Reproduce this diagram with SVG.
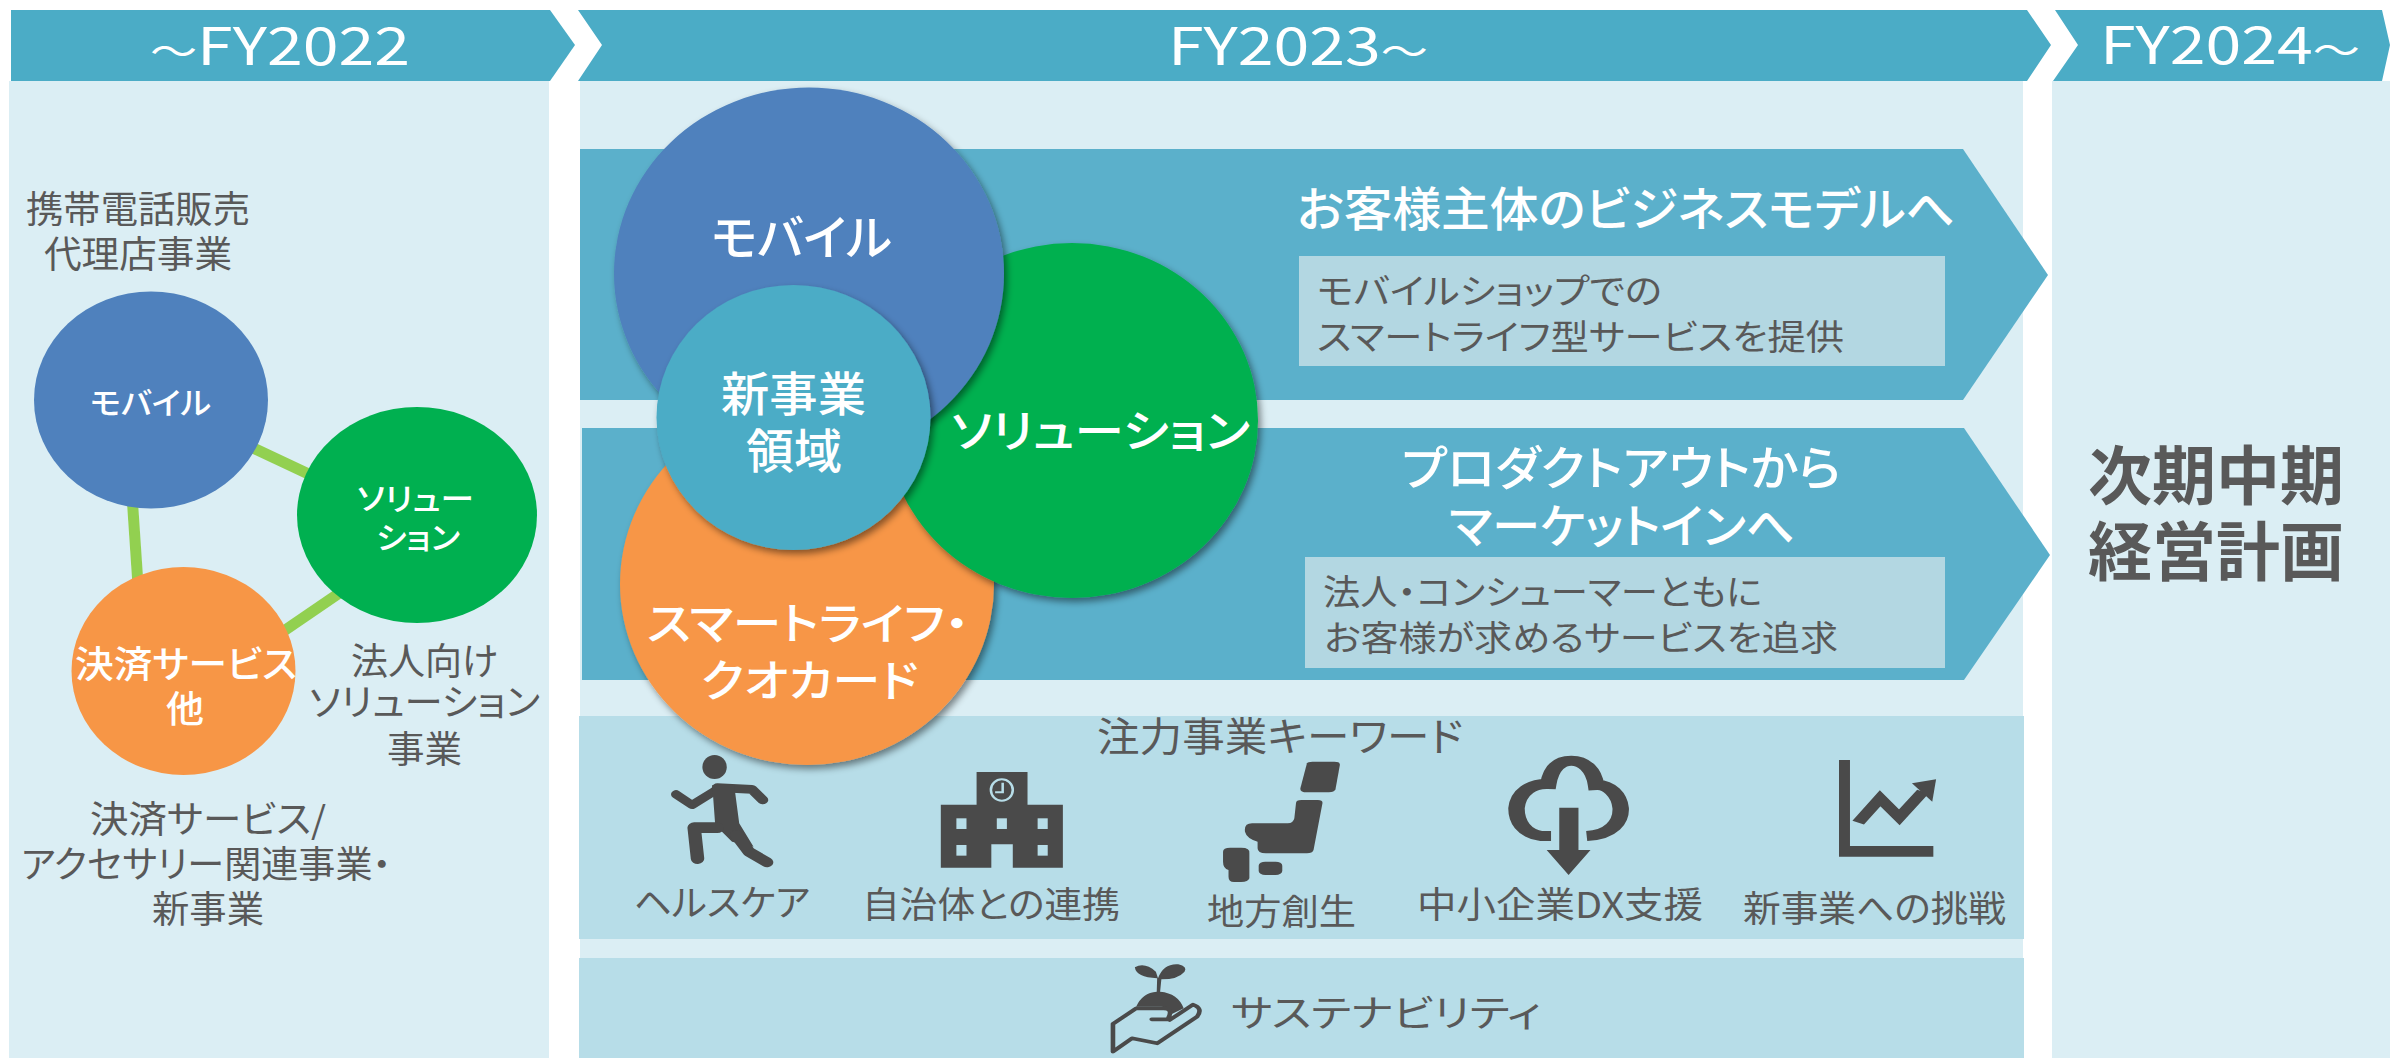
<svg xmlns="http://www.w3.org/2000/svg" width="2390" height="1058" viewBox="0 0 2390 1058">
<style>
text{font-family:"Noto Sans CJK JP","Noto Sans",sans-serif;fill:#595959;font-feature-settings:"palt"}
.w{fill:#fff}
.m{font-weight:500}
.n{font-weight:700}
.t{font-size:38px}
.h{fill:#4BACC6}
.p{fill:#DBEEF4}
.a{fill:#5BB0CB}
.b{fill:#B3D7E2}
.k{fill:#B7DDE8}
.i{fill:#4A4A4A}
.s{fill:none;stroke:#4A4A4A;stroke-linejoin:round;stroke-linecap:round}
.bl{fill:#4F81BD}.gr{fill:#00B050}.or{fill:#F79646}.te{fill:#4BACC6}
.c{stroke:#92D050;stroke-width:11;fill:none}
</style>
<defs>
<filter id="sh" x="-10%" y="-10%" width="125%" height="125%"><feDropShadow dx="3" dy="4" stdDeviation="3.5" flood-color="#000" flood-opacity=".45"/></filter>
</defs>
<rect width="2390" height="1058" fill="#fff"/>
<rect class="p" x="9" y="81" width="540" height="977"/>
<rect class="p" x="580" y="81" width="1443" height="977"/>
<rect class="p" x="2052" y="81" width="338" height="977"/>
<g id="header-fy2022"><polygon class="h" points="11,10 550,10 575,45 550,81 11,81"/><text class="w" x="150" y="65" font-size="52" textLength="260" lengthAdjust="spacingAndGlyphs"><tspan class="t">～</tspan>FY2022</text></g>
<g id="header-fy2023"><polygon class="h" points="578,10 2027,10 2051,45 2027,81 578,81 602,45"/><text class="w" x="1168" y="65" font-size="52" textLength="260" lengthAdjust="spacingAndGlyphs">FY2023<tspan class="t">～</tspan></text></g>
<g id="header-fy2024"><polygon class="h" points="2055,10 2382,10 2390,45 2382,81 2053,81 2078,45"/><text class="w" x="2100" y="64" font-size="52" textLength="260" lengthAdjust="spacingAndGlyphs">FY2024<tspan class="t">～</tspan></text></g>

<g id="connectors">
<line class="c" x1="151" y1="400" x2="417" y2="525"/>
<line class="c" x1="131" y1="480" x2="139" y2="600"/>
<line class="c" x1="417" y1="540" x2="183" y2="700"/>
</g>

<g id="left-mobile"><ellipse class="bl" cx="151" cy="400" rx="117" ry="108.5"/><text class="w m" x="90" y="414" font-size="31" textLength="121" lengthAdjust="spacingAndGlyphs">モバイル</text></g>
<g id="left-solution"><ellipse class="gr" cx="417" cy="515" rx="120" ry="108"/><text class="w m" x="357" y="510" font-size="31" textLength="117" lengthAdjust="spacingAndGlyphs">ソリュー</text><text class="w m" x="376" y="549" font-size="31" textLength="84" lengthAdjust="spacingAndGlyphs">ション</text></g>
<g id="left-payment"><ellipse class="or" cx="183.500" cy="671" rx="112" ry="104"/><text class="w m" x="75" y="678" font-size="37" textLength="222" lengthAdjust="spacingAndGlyphs">決済サービス</text><text class="w m" x="166" y="723" font-size="37" textLength="38" lengthAdjust="spacingAndGlyphs">他</text></g>
<g id="left-labels">
<text x="26" y="223" font-size="37" textLength="224" lengthAdjust="spacingAndGlyphs">携帯電話販売</text>
<text x="44" y="268" font-size="37" textLength="188" lengthAdjust="spacingAndGlyphs">代理店事業</text>
<text x="351" y="675" font-size="37" textLength="147" lengthAdjust="spacingAndGlyphs">法人向け</text>
<text x="309" y="716" font-size="37" textLength="231" lengthAdjust="spacingAndGlyphs">ソリューション</text>
<text x="387" y="763" font-size="37" textLength="75" lengthAdjust="spacingAndGlyphs">事業</text>
<text x="90" y="833" font-size="37" textLength="236" lengthAdjust="spacingAndGlyphs">決済サービス/</text>
<text x="21" y="878" font-size="37" textLength="370" lengthAdjust="spacingAndGlyphs">アクセサリー関連事業・</text>
<text x="152" y="923" font-size="37" textLength="112" lengthAdjust="spacingAndGlyphs">新事業</text>
</g>

<g id="band-customer"><polygon class="a" points="580,149 1963,149 2048,275 1963,400 580,400"/>
<text class="w m" x="1297" y="226" font-size="47" textLength="658" lengthAdjust="spacingAndGlyphs">お客様主体のビジネスモデルへ</text>
<rect class="b" x="1299" y="256" width="646" height="110"/>
<text x="1317" y="304" font-size="35" textLength="345" lengthAdjust="spacingAndGlyphs">モバイルショップでの</text>
<text x="1317" y="350" font-size="35" textLength="527" lengthAdjust="spacingAndGlyphs">スマートライフ型サービスを提供</text></g>
<g id="band-market"><polygon class="a" points="582,428 1964,428 2050,555 1964,680 582,680"/>
<text class="w m" x="1402" y="485" font-size="47" textLength="439" lengthAdjust="spacingAndGlyphs">プロダクトアウトから</text>
<text class="w m" x="1449" y="543" font-size="47" textLength="346" lengthAdjust="spacingAndGlyphs">マーケットインへ</text>
<rect class="b" x="1305" y="557" width="640" height="111"/>
<text x="1323" y="605" font-size="35" textLength="439" lengthAdjust="spacingAndGlyphs">法人・コンシューマーともに</text>
<text x="1324" y="651" font-size="35" textLength="514" lengthAdjust="spacingAndGlyphs">お客様が求めるサービスを追求</text></g>
<rect class="k" x="579" y="716" width="1445" height="223"/>
<rect class="k" x="579" y="958" width="1445" height="100"/>

<g id="circle-smartlife"><ellipse class="or" cx="807" cy="584" rx="187" ry="181" filter="url(#sh)"/><text class="w m" x="647" y="640" font-size="44" textLength="322" lengthAdjust="spacingAndGlyphs">スマートライフ・</text><text class="w m" x="701" y="697" font-size="44" textLength="217" lengthAdjust="spacingAndGlyphs">クオカード</text></g>
<g id="circle-solution"><ellipse class="gr" cx="1072" cy="420.500" rx="186" ry="177.500" filter="url(#sh)"/><text class="w m" x="951" y="448" font-size="45" textLength="299" lengthAdjust="spacingAndGlyphs">ソリューション</text></g>
<g id="circle-mobile"><ellipse class="bl" cx="809" cy="273.500" rx="195" ry="186" filter="url(#sh)"/><text class="w m" x="711" y="255" font-size="48" textLength="181" lengthAdjust="spacingAndGlyphs">モバイル</text></g>
<g id="circle-new"><ellipse class="te" cx="793.500" cy="417.500" rx="137" ry="132.500" filter="url(#sh)"/><text class="w m" x="721" y="411" font-size="47" textLength="145" lengthAdjust="spacingAndGlyphs">新事業</text><text class="w m" x="746" y="468" font-size="47" textLength="96" lengthAdjust="spacingAndGlyphs">領域</text></g>

<g id="keywords">
<text x="1097" y="751" font-size="40" textLength="366" lengthAdjust="spacingAndGlyphs">注力事業キーワード</text>
<text x="634" y="916" font-size="36" textLength="176" lengthAdjust="spacingAndGlyphs">ヘルスケア</text>
<text x="862" y="918" font-size="36" textLength="258" lengthAdjust="spacingAndGlyphs">自治体との連携</text>
<text x="1207" y="925" font-size="36" textLength="149" lengthAdjust="spacingAndGlyphs">地方創生</text>
<text x="1417" y="918" font-size="36" textLength="286" lengthAdjust="spacingAndGlyphs">中小企業DX支援</text>
<text x="1743" y="922" font-size="36" textLength="263" lengthAdjust="spacingAndGlyphs">新事業への挑戦</text>
</g>
<g id="sustainability"><text x="1231" y="1027" font-size="37" textLength="310" lengthAdjust="spacingAndGlyphs">サステナビリティ</text>
<g transform="translate(570 700) scale(.4209 .3333)">
<path class="i" d="M1395 835Q1345 832 1342 802Q1365 785 1392 815L1397 835Q1410 790 1445 793Q1468 800 1460 815Q1445 838 1405 838L1402 875Q1445 880 1458 925L1430 942Q1425 920 1405 920H1345Q1360 878 1394 875Z"/>
<path class="s" stroke-width="11" d="M1382 958H1420Q1435 925 1410 925H1345L1290 972V1055L1335 1015L1395 1030L1490 950Q1505 925 1480 914L1425 960"/>
</g></g>

<g id="icon-runner" transform="translate(570 700) scale(.4209 .3333)">
<ellipse class="i" cx="343.500" cy="201" rx="29" ry="36"/>
<path class="s" stroke-width="24" d="M252 283L290 315L350 268"/>
<path class="s" stroke-width="26" d="M350 263L432 268L458 300"/>
<path class="i" d="M338 255L390 255L402 370L436 440L385 425L345 375Z"/>
<path class="s" stroke-width="32" d="M350 383H295L303 476"/>
<path class="s" stroke-width="30" d="M395 405L425 455L468 487"/>
</g>
<g id="icon-building" transform="translate(570 700) scale(.4209 .3333)">
<path class="i" d="M966 216H1087V314H1171V503H1052V433H1001V503H881V314H966Z"/>
<g class="k"><rect x="918" y="355" width="24" height="32"/><rect x="1014" y="355" width="24" height="32"/><rect x="1111" y="355" width="24" height="32"/><rect x="918" y="435" width="24" height="32"/><rect x="1111" y="435" width="24" height="32"/></g>
<ellipse cx="1026" cy="270" rx="26" ry="32" fill="none" stroke="#B7DDE8" stroke-width="6"/>
<path d="M1028 248V277H1010" fill="none" stroke="#B7DDE8" stroke-width="6"/>
</g>
<g id="icon-japan" transform="translate(1200 700) scale(.5485 .3333)">
<path class="i" d="M195 190Q196 185 205 185H245Q256 185 255 195L247 268Q245 277 235 277H195Q182 277 183 265Z"/>
<path class="i" d="M178 300H215Q225 300 223 312L207 450Q205 460 195 460H120Q105 460 105 445V425Q85 415 82 395Q80 370 95 370H160Q170 370 172 355L175 310Q175 300 185 300Z"/>
<path class="i" d="M55 443H75Q92 443 90 460V535Q88 546 75 546H62Q52 546 52 530V510Q42 505 42 485V455Q42 443 55 443Z"/>
<rect class="i" x="107" y="485" width="43" height="40" rx="12"/>
</g>
<g id="icon-cloud" transform="translate(1200 700) scale(.5485 .3333)">
<path d="M640 408H622C590 400 577 365 577 325C580 275 605 250 635 252C640 205 655 182 677 182C700 182 718 210 722 255C745 252 765 285 767 325C768 365 750 405 705 408" fill="none" stroke="#4A4A4A" stroke-width="30"/>
<path class="i" d="M655 323H690V450H712L672 525L632 450H655Z"/>
</g>
<g id="icon-chart" transform="translate(1200 700) scale(.5485 .3333)">
<path class="i" d="M1165 180H1185V438H1337V470H1165Z"/>
<path d="M1200 368L1240 295L1275 352L1318 275" fill="none" stroke="#4A4A4A" stroke-width="24"/>
<path class="i" d="M1298 250L1342 238L1335 305Z"/>
</g>
<g id="next-plan"><text class="n" x="2088" y="499" font-size="64" textLength="256" lengthAdjust="spacingAndGlyphs">次期中期</text><text class="n" x="2088" y="575" font-size="64" textLength="256" lengthAdjust="spacingAndGlyphs">経営計画</text></g>
</svg>
